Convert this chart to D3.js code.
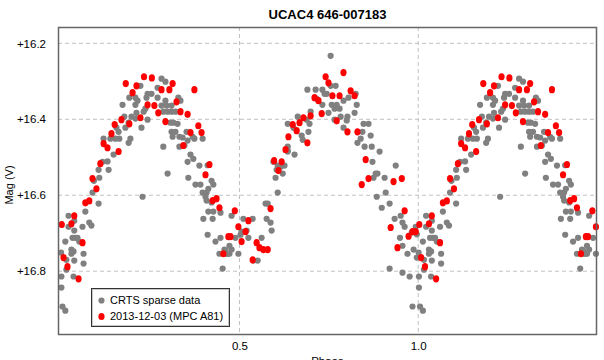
<!DOCTYPE html>
<html>
<head>
<meta charset="utf-8">
<script src="https://cdn.jsdelivr.net/npm/d3@7"></script>
<style>
  body { margin: 0; background: #fff; }
  svg text { font-family: "Liberation Sans", Arial, sans-serif; }
</style>
</head>
<body>
<svg id="chart" width="604" height="360"></svg>
<script>
// CRTS sparse data, phase folded (0..1)
var crtsPhase = [.282,.293,.271,.223,.243,.254,.240,.271,.192,.209,.215,.173,.209,.232,.237,.293,.282,.296,.310,.287,
  .299,.310,.321,.329,.335,.178,.198,.212,.209,.243,.190,.181,.156,.162,.226,.307,.315,.327,.310,.321,
  .313,.332,.352,.369,.374,.397,.341,.355,.332,.346,.287,.120,.139,.153,.164,.195,.190,.148,.131,.117,
  .106,.134,.108,.093,.089,.299,.363,.371,.355,.388,.357,.377,.391,.413,.422,.427,.397,.408,.106,.069,
  .022,.038,.022,.061,.080,.086,.038,.033,.041,.047,.013,.052,.030,.036,.030,.001,.064,.016,.038,.064,
  .016,.036,.002,.002,.005,.013,.229,.422,.413,.427,.447,.399,.425,.411,.433,.447,.472,.461,.472,.464,
  .453,.411,.405,.408,.478,.511,.537,.506,.520,.489,.525,.503,.562,.478,.458,.444,.467,.497,.551,.539,
  .573,.579,.576,.587,.590,.607,.601,.595,.626,.621,.654,.635,.872,.886,.881,.875,.906,.892,.937,.909,
  .884,.920,.898,.934,.949,.920,.951,.956,.962,.993,.996,.982,.956,.987,.970,.996,.956,.976,.984,.755,
  .690,.713,.732,.755,.769,.738,.744,.716,.791,.805,.825,.828,.732,.758,.772,.766,.780,.749,.822,.783,
  .800,.802,.766,.699,.696,.688,.663,.635,.651,.693,.674,.677,.791,.847,.861,.844,.839,.830,.867,.850,
  .870,.635,.635,.607,.615,.604];
var crtsMag = [16.293,16.301,16.317,16.312,16.333,16.333,16.343,16.343,16.343,16.343,16.351,16.362,16.362,16.380,16.372,16.351,16.364,16.364,16.364,16.380,
  16.380,16.380,16.380,16.343,16.351,16.393,16.393,16.383,16.398,16.401,16.409,16.422,16.422,16.433,16.422,16.409,16.409,16.412,16.433,16.433,
  16.446,16.446,16.433,16.446,16.451,16.451,16.448,16.456,16.472,16.469,16.472,16.451,16.451,16.451,16.451,16.451,16.462,16.493,16.511,16.512,
  16.533,16.533,16.554,16.562,16.593,16.543,16.493,16.504,16.512,16.522,16.554,16.572,16.572,16.583,16.562,16.572,16.593,16.593,16.622,16.643,
  16.654,16.667,16.683,16.683,16.672,16.680,16.693,16.712,16.712,16.712,16.722,16.722,16.743,16.748,16.754,16.751,16.754,16.770,16.772,16.780,
  16.796,16.814,16.814,16.843,16.893,16.904,16.604,16.619,16.643,16.643,16.646,16.662,16.662,16.704,16.722,16.712,16.733,16.746,16.754,16.754,
  16.793,16.521,16.604,16.614,16.654,16.662,16.662,16.696,16.693,16.712,16.712,16.704,16.712,16.743,16.743,16.754,16.754,16.754,16.772,16.772,
  16.622,16.622,16.662,16.672,16.693,16.593,16.554,16.512,16.522,16.543,16.493,16.485,16.512,16.543,16.543,16.554,16.554,16.485,16.522,16.593,
  16.604,16.622,16.633,16.662,16.712,16.793,16.654,16.672,16.683,16.683,16.703,16.698,16.733,16.743,16.754,16.764,16.804,16.814,16.893,16.233,
  16.322,16.322,16.322,16.312,16.312,16.333,16.333,16.346,16.351,16.343,16.333,16.362,16.362,16.362,16.362,16.372,16.372,16.383,16.383,16.393,
  16.403,16.393,16.401,16.380,16.412,16.401,16.393,16.412,16.422,16.433,16.443,16.454,16.422,16.412,16.412,16.433,16.451,16.462,16.443,16.472,
  16.472,16.472,16.483,16.522,16.525,16.533];

// 2013-12-03 (MPC A81), phase folded (0..1)
var a81Phase = [.233,.255,.182,.212,.313,.282,.304,.374,.201,.324,.243,.262,.273,.335,.355,.223,.170,.293,.151,.192,
  .385,.142,.363,.394,.120,.131,.343,.162,.111,.416,.405,.089,.100,.080,.069,.038,.030,.003,.061,.008,
  .019,.050,.425,.436,.444,.487,.525,.517,.497,.506,.469,.475,.455,.548,.556,.567,.579,.537,.587,.597,
  .618,.609,.629,.791,.741,.749,.760,.780,.811,.822,.710,.721,.730,.699,.679,.668,.649,.772,.660,.802,
  .830,.637,.690,.853,.861,.842,.931,.954,.962,.923,.984,.993,.973,.942];
var a81Mag = [16.288,16.291,16.306,16.312,16.306,16.322,16.322,16.322,16.330,16.354,16.362,16.364,16.383,16.380,16.387,16.396,16.401,16.406,16.414,16.412,
  16.417,16.438,16.435,16.435,16.464,16.475,16.469,16.485,16.517,16.519,16.546,16.556,16.583,16.615,16.620,16.654,16.675,16.677,16.725,16.764,
  16.788,16.820,16.614,16.609,16.633,16.641,16.667,16.696,16.683,16.722,16.709,16.709,16.754,16.725,16.738,16.743,16.743,16.770,16.635,16.509,
  16.512,16.535,16.480,16.277,16.288,16.304,16.338,16.338,16.325,16.338,16.343,16.351,16.385,16.391,16.396,16.409,16.414,16.404,16.430,16.433,
  16.433,16.446,16.462,16.506,16.556,16.572,16.564,16.556,16.641,16.685,16.696,16.696,16.708,16.738];

var magTicks = [16.2, 16.4, 16.6, 16.8];
var phaseTicks = [0.5, 1.0];
var legendLabels = ["CRTS sparse data", "2013-12-03 (MPC A81)"];

var svg = d3.select("#chart");
var margin = { top: 27, right: 7, bottom: 25, left: 58 };
var width = +svg.attr("width"), height = +svg.attr("height");

var x = d3.scaleLinear().domain([-0.0075, 1.5]).range([margin.left, width - margin.right]);
var y = d3.scaleLinear().domain([16.157, 16.968]).range([margin.top, height - margin.bottom]);

// fold: show phase 0..1 plus a repeat of 0..0.5 at 1..1.5
function unfold(ph, mg) {
  var pts = [];
  ph.forEach(function (p, i) {
    pts.push({ p: p, m: mg[i] });
    if (p < 0.5) pts.push({ p: p + 1, m: mg[i] });
  });
  return pts;
}
var crts = unfold(crtsPhase, crtsMag);
var a81 = unfold(a81Phase, a81Mag);

// gridlines
svg.append("g")
  .selectAll("line")
  .data(magTicks)
  .enter()
  .append("line")
  .attr("x1", margin.left).attr("x2", width - margin.right)
  .attr("y1", d => y(d)).attr("y2", d => y(d))
  .attr("stroke", "#c0c0c0").attr("stroke-dasharray", "4,3");

svg.append("g")
  .selectAll("line")
  .data(phaseTicks)
  .enter()
  .append("line")
  .attr("y1", margin.top).attr("y2", height - margin.bottom)
  .attr("x1", d => x(d)).attr("x2", d => x(d))
  .attr("stroke", "#c0c0c0").attr("stroke-dasharray", "4,3");

// points
svg.append("g")
  .selectAll("circle")
  .data(crts)
  .enter()
  .append("circle")
  .attr("cx", d => x(d.p))
  .attr("cy", d => y(d.m))
  .attr("r", 3.1)
  .attr("fill", "#808080");

svg.append("g")
  .selectAll("ellipse")
  .data(a81)
  .enter()
  .append("ellipse")
  .attr("cx", d => x(d.p))
  .attr("cy", d => y(d.m))
  .attr("rx", 3.1)
  .attr("ry", 3.6)
  .attr("fill", "#ff0000");

// frame
svg.append("rect")
  .attr("x", margin.left + 0.5).attr("y", margin.top + 0.5)
  .attr("width", width - margin.right - margin.left - 1)
  .attr("height", height - margin.bottom - margin.top - 1)
  .attr("fill", "none").attr("stroke", "#666").attr("stroke-width", 1.5);

// axes
var yAxis = svg.append("g")
  .attr("transform", `translate(${margin.left},0)`)
  .call(d3.axisLeft(y).tickValues(magTicks).tickSize(0).tickPadding(12)
    .tickFormat(d => "+" + d3.format(".1f")(d)));
yAxis.select(".domain").remove();
yAxis.selectAll("text").attr("font-size", 11.5).attr("fill", "#000")
  .attr("font-family", "Liberation Sans, Arial, sans-serif");

var xAxis = svg.append("g")
  .attr("transform", `translate(0,${height - margin.bottom})`)
  .call(d3.axisBottom(x).tickValues(phaseTicks).tickSize(0).tickPadding(7)
    .tickFormat(d3.format(".1f")));
xAxis.select(".domain").remove();
xAxis.selectAll("text").attr("font-size", 11.5).attr("fill", "#000")
  .attr("font-family", "Liberation Sans, Arial, sans-serif");

// titles
var cx = (margin.left + width - margin.right) / 2;
svg.append("text")
  .attr("x", cx).attr("y", 19)
  .attr("text-anchor", "middle")
  .attr("font-size", 13).attr("font-weight", "bold")
  .text("UCAC4 646-007183");

svg.append("text")
  .attr("x", cx).attr("y", 365)
  .attr("text-anchor", "middle")
  .attr("font-size", 11.5)
  .text("Phase");

svg.append("text")
  .attr("transform", "translate(13,185) rotate(-90)")
  .attr("text-anchor", "middle")
  .attr("font-size", 11)
  .text("Mag (V)");

// legend
var lg = svg.append("g").attr("transform", "translate(91,288)");
lg.append("rect")
  .attr("x", 0.5).attr("y", 0.5).attr("width", 138).attr("height", 38)
  .attr("fill", "#fff").attr("stroke", "#333");
lg.append("rect")
  .attr("x", 1.5).attr("y", 1.5).attr("width", 136).attr("height", 36)
  .attr("fill", "none").attr("stroke", "#c8c8c8");

var items = lg.selectAll("g.item")
  .data(legendLabels)
  .enter()
  .append("g")
  .attr("class", "item")
  .attr("transform", (d, i) => `translate(0,${12.5 + i * 16})`);

items.append("ellipse")
  .attr("cx", 10.5)
  .attr("rx", 3.1)
  .attr("ry", (d, i) => i === 0 ? 3.1 : 3.6)
  .attr("fill", (d, i) => i === 0 ? "#808080" : "#ff0000");

items.append("text")
  .attr("x", 19)
  .attr("dy", "0.35em")
  .attr("font-size", 11)
  .text(d => d);
</script>
</body>
</html>
